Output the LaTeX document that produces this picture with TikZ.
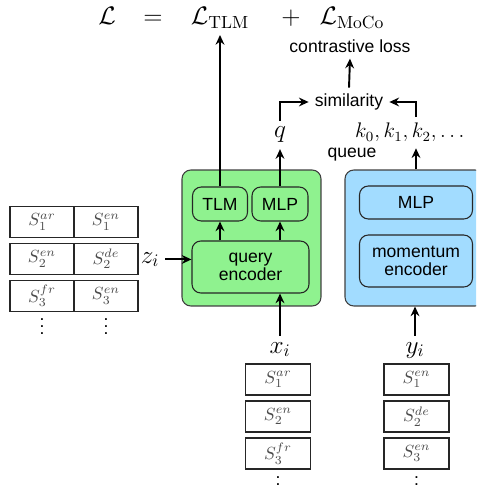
\documentclass[tikz,border=0pt]{standalone}
\usepackage{amsmath,amssymb}
\usepackage[no-math]{fontspec}
\setmainfont{Liberation Sans}
\usepackage{xcolor}
\usetikzlibrary{shapes,arrows.meta}
\definecolor{qgreen}{HTML}{8FF28F}
\definecolor{kblue}{HTML}{A2DCFF}

\begin{document}
\begin{tikzpicture}[x=0.02cm,y=-0.02cm,>={Stealth[length=5.5pt,width=5pt,inset=1.8pt]},
  arr/.style={->,line width=1.1pt},
  cell/.style={draw=black!85,line width=0.6pt,minimum width=1.28cm,minimum height=0.62cm,inner sep=0pt,text=black!70},
  outer/.style={draw=black!75,line width=0.6pt,rounded corners=5pt,minimum width=2.78cm,minimum height=2.72cm},
  inner/.style={draw=black!85,line width=0.6pt,rounded corners=5pt,inner sep=0pt,align=center},
  lbl/.style={font=\Large,anchor=base}]
\clip (0,0) rectangle (476,486);
\useasboundingbox (0,0) rectangle (476,486);
\node [lbl] (L) at (107,25) {$\mathcal{L}$};
\node [lbl] (eq) at (153,25) {$=$};
\node [lbl] (Ltlm) at (220,25) {$\mathcal{L}_{\mathrm{TLM}}$};
\node [lbl] (plus) at (291,25) {$+$};
\node [lbl] (Lmoco) at (352,25) {$\mathcal{L}_{\mathrm{MoCo}}$};
\node (closs) at (350,46) {contrastive loss};
\node (sim) at (349,102) {similarity};
\node [lbl] (q) at (280,138) {$q$};
\node [font=\large,anchor=base west] (keys) at (349,138) {$k_0, k_1, k_2, \ldots$};
\node (queue) at (352,155) {queue};
\node [outer,fill=qgreen] (qbox) at (251.5,238) {};
\node [outer,fill=kblue] (kbox) at (414.5,238) {};
\node [inner,minimum width=1.1cm,minimum height=0.68cm] (tlm) at (220,204) {TLM};
\node [inner,minimum width=1.12cm,minimum height=0.68cm] (qmlp) at (280,204) {MLP};
\node [inner,minimum width=2.34cm,minimum height=1.04cm] (qenc) at (250.5,267) {query\\[-2pt]encoder};
\node [inner,minimum width=2.26cm,minimum height=0.66cm] (kmlp) at (416,202.5) {MLP};
\node [inner,minimum width=2.26cm,minimum height=1.04cm] (kenc) at (416,261) {momentum\\[-2pt]encoder};
\node [lbl] (zi) at (150,263) {$z_i$};
\node [lbl] (xi) at (280,353) {$x_i$};
\node [lbl] (yi) at (415,353) {$y_i$};
\node [cell] (s1a) at (42,222) {$S^{ar}_1$};
\node [cell] (s1b) at (106,222) {$S^{en}_1$};
\node [cell] (s2a) at (42,259) {$S^{en}_2$};
\node [cell] (s2b) at (106,259) {$S^{de}_2$};
\node [cell] (s3a) at (42,296) {$S^{fr}_3$};
\node [cell] (s3b) at (106,296) {$S^{en}_3$};
\node (dota) at (42,321) {$\vdots$};
\node (dotb) at (106,321) {$\vdots$};
\node [cell,minimum width=1.3cm] (x1) at (278,379.5) {$S^{ar}_1$};
\node [cell,minimum width=1.3cm] (x2) at (278,416.5) {$S^{en}_2$};
\node [cell,minimum width=1.3cm] (x3) at (278,453.5) {$S^{fr}_3$};
\node (dotx) at (278,479) {$\vdots$};
\node [cell,minimum width=1.3cm] (y1) at (416.5,379.5) {$S^{en}_1$};
\node [cell,minimum width=1.3cm] (y2) at (416.5,416.5) {$S^{de}_2$};
\node [cell,minimum width=1.3cm] (y3) at (416.5,453.5) {$S^{en}_3$};
\node (doty) at (416.5,479) {$\vdots$};
\draw [arr] (tlm.north) -- (tlm.north |- Ltlm.south);
\draw [arr] (qmlp.north) -- (q.south);
\draw [arr] (kbox.north -| kmlp) -- (kmlp |- keys.south);
\draw [arr] (q.north) |- (sim.west);
\draw [arr] (kmlp |- keys.north) |- (sim.east);
\draw [arr] (sim.north) -- (closs.south);
\draw [arr] (qenc.north -| tlm) -- (tlm.south);
\draw [arr] (qenc.north -| qmlp) -- (qmlp.south);
\draw [arr] (zi.east) -- (zi.east -| qenc.west);
\draw [arr] (xi.north) -- (xi.north |- qenc.south);
\draw [arr] (yi.north) -- (yi.north |- kbox.south);
\end{tikzpicture}
\end{document}
